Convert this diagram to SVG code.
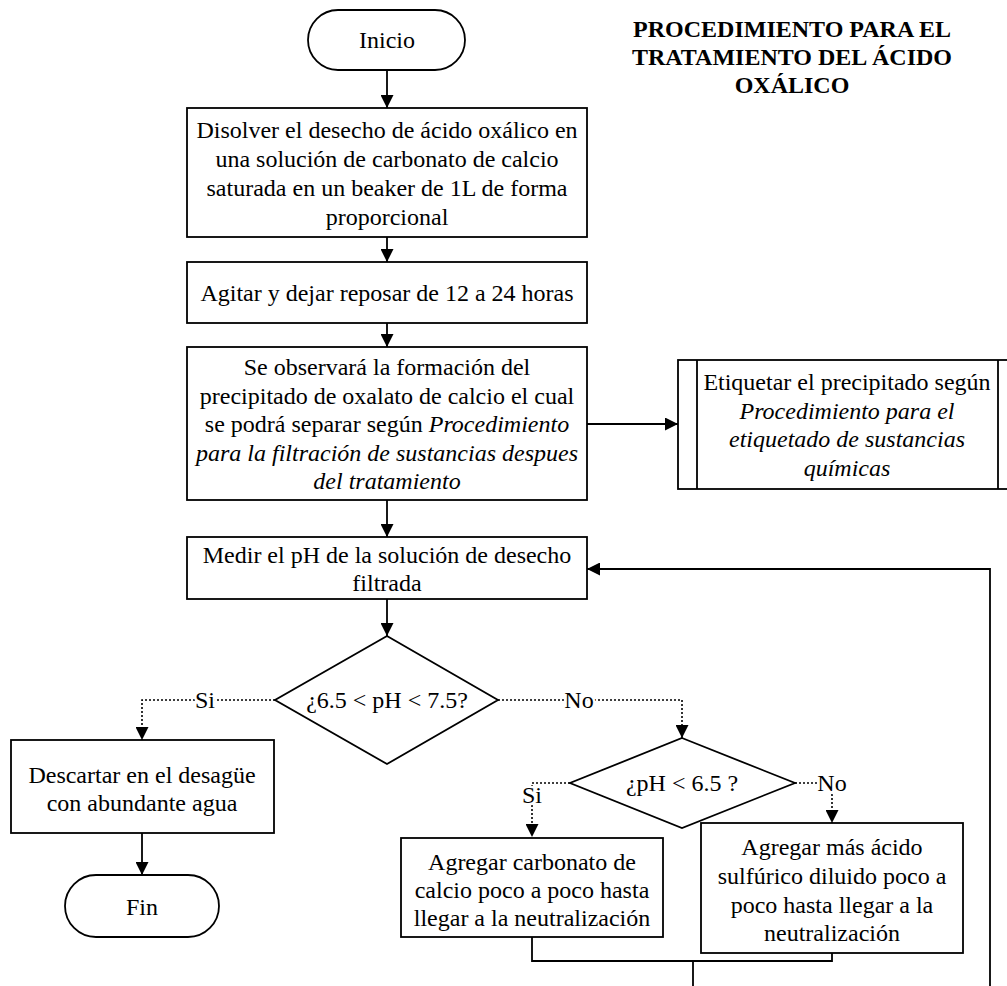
<svg xmlns="http://www.w3.org/2000/svg" width="1007" height="986" viewBox="0 0 1007 986">
  <style>
    .shape { fill: #ffffff; stroke: #000000; stroke-width: 1.8; }
    .line { fill: none; stroke: #000000; stroke-width: 1.8; }
    .dot { fill: none; stroke: #000000; stroke-width: 1.6; stroke-dasharray: 2 2; }
    text { font-family: "Liberation Serif", "Times New Roman", serif; font-size: 24px; fill: #000000; text-anchor: middle; }
    .title { font-weight: bold; font-size: 24px; }
    .lbl { paint-order: stroke; stroke: #ffffff; stroke-width: 5px; }
  </style>
  <defs>
    <marker id="arrowBig" viewBox="0 0 12 12" refX="12" refY="6" markerWidth="13" markerHeight="13" markerUnits="userSpaceOnUse" orient="auto">
      <path d="M0,0 L12,6 L0,12 Z" fill="#000000"/>
    </marker>
  </defs>

  <rect width="1007" height="986" fill="#ffffff"/>

  <!-- title -->
  <g id="title">
    <text class="title" x="792" y="37">PROCEDIMIENTO PARA EL</text>
    <text class="title" x="792" y="65">TRATAMIENTO DEL ÁCIDO</text>
    <text class="title" x="792" y="93">OXÁLICO</text>
  </g>

  <!-- connectors -->
  <g id="connectors">
    <path class="line" d="M387,70 V108" marker-end="url(#arrowBig)"/>
    <path class="line" d="M387,237 V262" marker-end="url(#arrowBig)"/>
    <path class="line" d="M387,323 V347" marker-end="url(#arrowBig)"/>
    <path class="line" d="M387,500 V537" marker-end="url(#arrowBig)"/>
    <path class="line" d="M587,424 H678" marker-end="url(#arrowBig)"/>
    <path class="line" d="M387,599 V636" marker-end="url(#arrowBig)"/>
    <path class="dot" d="M275,700 H142 V740" marker-end="url(#arrowBig)"/>
    <path class="dot" d="M498,700 H682 V738" marker-end="url(#arrowBig)"/>
    <path class="dot" d="M570,783 H532 V837" marker-end="url(#arrowBig)"/>
    <path class="dot" d="M795,783 H832 V823" marker-end="url(#arrowBig)"/>
    <path class="line" d="M142,833 V875" marker-end="url(#arrowBig)"/>
    <path class="line" d="M532,937 V961 H832 V953"/>
    <path class="line" d="M693,961 V986"/>
    <path class="line" d="M990,986 V569 H587" marker-end="url(#arrowBig)"/>
    <text class="lbl" x="205" y="708">Si</text>
    <text class="lbl" x="579" y="708">No</text>
    <text class="lbl" x="532" y="803">Si</text>
    <text class="lbl" x="832" y="791">No</text>
  </g>

  <g id="inicio">
    <rect class="shape" x="308" y="10" width="157" height="60" rx="30" ry="30"/>
    <text x="387" y="48">Inicio</text>
  </g>

  <g id="disolver">
    <rect class="shape" x="187" y="108" width="400" height="129"/>
    <text x="387" y="138">Disolver el desecho de ácido oxálico en</text>
    <text x="387" y="167">una solución de carbonato de calcio</text>
    <text x="387" y="196">saturada en un beaker de 1L de forma</text>
    <text x="387" y="225">proporcional</text>
  </g>

  <g id="agitar">
    <rect class="shape" x="187" y="262" width="400" height="61"/>
    <text x="387" y="301">Agitar y dejar reposar de 12 a 24 horas</text>
  </g>

  <g id="observar">
    <rect class="shape" x="187" y="347" width="400" height="153"/>
    <text x="387" y="375">Se observará la formación del</text>
    <text x="387" y="404">precipitado de oxalato de calcio el cual</text>
    <text x="387" y="432">se podrá separar según <tspan font-style="italic">Procedimiento</tspan></text>
    <text x="387" y="461" font-style="italic">para la filtración de sustancias despues</text>
    <text x="387" y="489" font-style="italic">del tratamiento</text>
  </g>

  <g id="etiquetar">
    <rect class="shape" x="678" y="360" width="340" height="129"/>
    <path class="line" d="M697,360 V489 M998,360 V489"/>
    <text x="847" y="390">Etiquetar el precipitado según</text>
    <text x="847" y="418.5" font-style="italic">Procedimiento para el</text>
    <text x="847" y="447" font-style="italic">etiquetado de sustancias</text>
    <text x="847" y="475.5" font-style="italic">químicas</text>
  </g>

  <g id="medir">
    <rect class="shape" x="187" y="537" width="400" height="62"/>
    <text x="387" y="563">Medir el pH de la solución de desecho</text>
    <text x="387" y="591">filtrada</text>
  </g>

  <g id="decision1">
    <polygon class="shape" points="387,636 498,700 387,764 275,700"/>
    <text x="387" y="708">¿6.5 &lt; pH &lt; 7.5?</text>
  </g>

  <g id="descartar">
    <rect class="shape" x="11" y="740" width="263" height="93"/>
    <text x="142" y="783">Descartar en el desagüe</text>
    <text x="142" y="811">con abundante agua</text>
  </g>

  <g id="fin">
    <rect class="shape" x="65" y="875" width="154" height="62" rx="31" ry="31"/>
    <text x="142" y="915">Fin</text>
  </g>

  <g id="decision2">
    <polygon class="shape" points="682,738 795,783 682,828 570,783"/>
    <text x="682" y="791">¿pH &lt; 6.5 ?</text>
  </g>

  <g id="carbonato">
    <rect class="shape" x="401" y="838" width="262" height="99"/>
    <text x="532" y="870">Agregar carbonato de</text>
    <text x="532" y="898">calcio poco a poco hasta</text>
    <text x="532" y="926">llegar a la neutralización</text>
  </g>

  <g id="sulfurico">
    <rect class="shape" x="701" y="823" width="262" height="130"/>
    <text x="832" y="855">Agregar más ácido</text>
    <text x="832" y="884">sulfúrico diluido poco a</text>
    <text x="832" y="913">poco hasta llegar a la</text>
    <text x="832" y="941">neutralización</text>
  </g>
</svg>
